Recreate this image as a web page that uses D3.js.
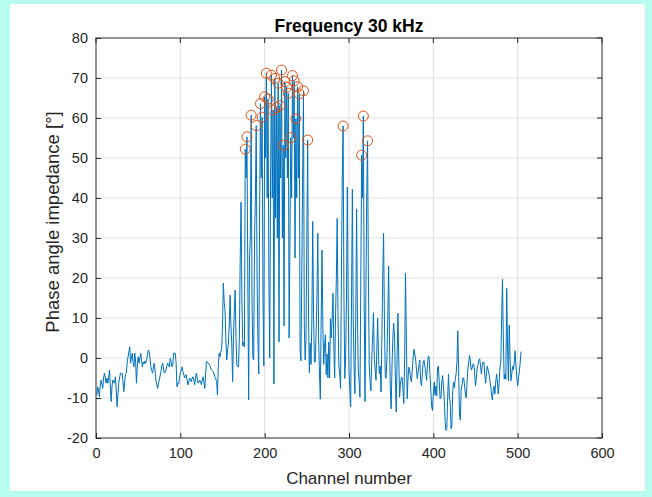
<!DOCTYPE html>
<html>
<head>
<meta charset="utf-8">
<script src="https://cdn.jsdelivr.net/npm/d3@7"></script>
<style>
  html, body { margin: 0; padding: 0; background: #b8fbef; }
  svg { display: block; font-family: "Liberation Sans", Arial, sans-serif; }
</style>
</head>
<body>
<div id="chart"></div>
<script>
(function() {
  // Phase angle per channel (channel 1..504)
  const phase = [
    // 1-100
    -9.2, -7.2, -8, -9.7, -7, -5.5, -6.5, -7.6, -5, -3.8,
    -5, -6.3, -5, -6.3, -5, -3, -7, -10.9, -7, -5.5,
    -6, -6.3, -4.7, -8, -12.2, -9, -6.3, -5, -3.8, -4,
    -3.8, -6, -8.4, -6, -4, -3.8, -1, 0.3, 1.5, 2.8,
    -1.3, 0, 1.2, -1, -2.2, 1.2, -1, -6.3, -2, 0.3,
    -1.3, 0, 1.2, -0.5, -2.2, -1, -1.5, -0.8, -1.3, -0.5,
    0.8, 2, 1.6, 0, -2.2, -3, -3.8, -2.5, -1.3, -3,
    -5.5, -6.5, -7.6, -6.5, -5.5, -4.5, -3.4, -2, -1.3, -2.5,
    -3.8, -3.5, -3, -2, -1.3, -1.8, -2.2, -0.1, -0.9, -2.2,
    -1.8, 1.2, 1.2, 1.2, -1.3, -7.2, -6.3, -6.5, -5, -3.8,
    // 101-200
    -3, -2.2, -3.4, -4, -5, -4.5, -4.2, -5.5, -6.7, -6,
    -5, -5.5, -5.9, -5, -4.7, -5.5, -6.7, -5, -3.8, -5,
    -6.3, -6, -5.5, -6, -6.7, -5.5, -4.7, -6, -7.6, -4,
    -0.9, -1, -1.3, -1.5, -1.8, -2.5, -3, -3.2, -3.4, -4,
    -4.7, -5.2, -5.9, -9.25, -2, 1.2, 0.3, 1.5, 2.4, 8,
    18.7, 14, 12, 4.5, -0.5, 2, 3.7, 8, 15.7, 8,
    3.7, -5.9, 5, 12, 17, 5, -1.7, -2.2, -2.2, 5,
    25, 39, 15, 3, 4, 2.8, 52.2, 45, 55.3, 20,
    -10.5, 25, 30, 60.7, 15, 0, -0.5, 30, 40, 58.1,
    20, 5, -4, 35, 63.6, 45, 60.2, 15, -2, 65.3,
    // 201-300
    50, 71.2, 40, 64.7, 20, 0, 45, 70.7, 40, 62,
    -6.5, 69.9, 35, 62.6, 30, 68.7, 4, 63.1, 45, 72,
    30, 53.2, 8, 69.1, 50, 67.7, 45, 66.2, 5, 30,
    55.1, 40, 70.6, 55, 69.3, 25, 59.8, 40, 67.8, 45,
    66, 2, -0.7, 20, 45, 66.8, 8, -0.5, 5, 30,
    54.5, 10, -3.7, 3.7, -1.6, 10, 34.1, 10, -1, -1,
    6.6, 15, 31.2, 5, -4, -10.3, 10, 27, 8, -1.6,
    3, 5.8, -4.2, 1, -5, 4, -5, 9.8, 5, 10,
    16.2, 3, -5, 10, 20, 34.9, 10, -2, -4, -7.6,
    20, 45, 58, 15, -5.1, 0, 15, 42.7, 15, -3,
    // 301-400
    -8, -12.2, 15, 42.2, 10, -2, -8.9, 10, 37.2, 10,
    -3, -6, -9.8, 20, 50.7, 40, 60.5, 15, -10.9, 15,
    40, 54.3, 20, -2, -6, -8.2, 0, 5, 11.3, 0,
    -3, -5.6, 2, 9.9, 0, -3.9, -2, -8.5, 5, 20,
    31.2, 10, -4.7, -5.1, 0, 10, 23, 5, -8, -12.7,
    -2, 5, 8.7, 4.9, -5, -13.5, 0, 11.2, 0, -9.8,
    -6.5, -5, -4.8, -8, -11.4, 0, 21.2, 5, -10.2, -5,
    -2.3, -3, -5, -6, -3, 0, 2.2, 1, -0.2, -3,
    -5.2, -3.5, -1.8, -0.5, -6, -7, -4, -1, -0.6, -2,
    -3.7, -5.6, -2, 0.5, 0.25, -4, -8.1, -12.2, -13.1, -9,
    // 401-504
    -6, -9.3, -7, -9.5, -2.5, -2, -6, -10.2, -10, -6,
    -4.4, -7, -10.6, -15.9, -18.1, -17.6, -10, -4, -9.75, -11,
    -17.7, -17, -8.1, -6, -7.5, -5.2, -4, -1, 6.8, -3,
    -14, -15.5, -8, -6.8, -5, -5, -7, -9, -10, -6,
    -2.5, -1, 0.6, -1, -3, -2.5, -1.5, -1.5, -4, -7,
    -5, -2.5, -1.7, -0.5, -0.2, -2, -4, -2, -1, -1,
    -4, -6.3, -4, -2, -3, -4, -5.5, -7, -9, -10.5,
    -8, -7, -9, -6, -4, -6, -9, -6, -2.5, -1,
    10, 19.7, 5, -5.3, -4, -5.3, 17.4, 3, -5.7, 8.25,
    0, -5.7, -4, -2, -3, -1, 1.8, -2, -5, -7,
    -5, -3.4, -1, 1.6
  ];

  // Channels flagged as peaks (orange circles)
  const peakChannels = [
    177, 179, 184, 190, 195, 197, 200, 202, 204, 208,
    210, 212, 214, 216, 218, 220, 222, 224, 226, 228,
    231, 233, 235, 237, 239, 241, 246, 251, 293, 315,
    317, 322
  ];

  const xTicks = [0, 100, 200, 300, 400, 500, 600];
  const yTicks = [-20, -10, 0, 10, 20, 30, 40, 50, 60, 70, 80];

  const width = 652, height = 497;
  const margin = { top: 38, right: 50, bottom: 59, left: 96 };
  const innerW = width - margin.left - margin.right;
  const innerH = height - margin.top - margin.bottom;

  const data = phase.map((v, i) => ({ ch: i + 1, v: v }));
  const peaks = peakChannels.map(c => ({ ch: c, v: phase[c - 1] }));

  const svg = d3.select("#chart").append("svg")
    .attr("width", width)
    .attr("height", height);

  // white figure panel over the cyan backdrop
  svg.append("rect")
    .attr("x", 10).attr("y", 4)
    .attr("width", 635).attr("height", 487)
    .attr("fill", "#ffffff");

  const x = d3.scaleLinear().domain([0, 600]).range([0, innerW]);
  const y = d3.scaleLinear().domain([-20, 80]).range([innerH, 0]);

  const g = svg.append("g")
    .attr("transform", `translate(${margin.left},${margin.top})`);

  // grid
  g.append("g")
    .selectAll("line")
    .data(xTicks.slice(1, -1))
    .join("line")
    .attr("x1", d => x(d)).attr("x2", d => x(d))
    .attr("y1", 0).attr("y2", innerH)
    .attr("stroke", "#dfdfdf").attr("stroke-width", 1);

  g.append("g")
    .selectAll("line")
    .data(yTicks.slice(1, -1))
    .join("line")
    .attr("x1", 0).attr("x2", innerW)
    .attr("y1", d => y(d)).attr("y2", d => y(d))
    .attr("stroke", "#dfdfdf").attr("stroke-width", 1);

  // series
  const line = d3.line()
    .x(d => x(d.ch))
    .y(d => y(d.v));

  g.append("path")
    .datum(data)
    .attr("fill", "none")
    .attr("stroke", "#0072BD")
    .attr("stroke-width", 1)
    .attr("stroke-linejoin", "round")
    .attr("d", line);

  g.append("g")
    .selectAll("circle")
    .data(peaks)
    .join("circle")
    .attr("cx", d => x(d.ch))
    .attr("cy", d => y(d.v))
    .attr("r", 5)
    .attr("fill", "none")
    .attr("stroke", "#D95319")
    .attr("stroke-width", 1);

  // axes, MATLAB style: ticks inside, box around
  const axColor = "#262626";
  const fmt = d => String(d);
  const xAxis = g.append("g")
    .attr("transform", `translate(0,${innerH})`)
    .call(d3.axisBottom(x).tickValues(xTicks).tickFormat(fmt).tickSizeInner(-5).tickSizeOuter(0).tickPadding(10));
  const yAxis = g.append("g")
    .call(d3.axisLeft(y).tickValues(yTicks).tickFormat(fmt).tickSizeInner(-5).tickSizeOuter(0).tickPadding(8));

  [xAxis, yAxis].forEach(a => {
    a.select(".domain").remove();
    a.selectAll("line").attr("stroke", axColor);
    a.selectAll("text")
      .attr("fill", axColor)
      .style("font-size", "14.5px")
      .style("font-family", "'Liberation Sans', Arial, sans-serif");
  });

  // top and right ticks
  g.append("g").selectAll("line")
    .data(xTicks)
    .join("line")
    .attr("x1", d => x(d)).attr("x2", d => x(d))
    .attr("y1", 0).attr("y2", 5)
    .attr("stroke", axColor);
  g.append("g").selectAll("line")
    .data(yTicks)
    .join("line")
    .attr("x1", innerW).attr("x2", innerW - 5)
    .attr("y1", d => y(d)).attr("y2", d => y(d))
    .attr("stroke", axColor);

  g.append("rect")
    .attr("x", 0).attr("y", 0)
    .attr("width", innerW).attr("height", innerH)
    .attr("fill", "none")
    .attr("stroke", axColor)
    .attr("stroke-width", 1);

  // labels
  svg.append("text")
    .attr("x", margin.left + innerW / 2)
    .attr("y", 32)
    .attr("text-anchor", "middle")
    .attr("font-weight", "bold")
    .attr("font-size", "17.5px")
    .attr("fill", "#000")
    .text("Frequency 30 kHz");

  svg.append("text")
    .attr("x", margin.left + innerW / 2)
    .attr("y", 484)
    .attr("text-anchor", "middle")
    .attr("font-size", "17px")
    .attr("fill", axColor)
    .text("Channel number");

  svg.append("text")
    .attr("transform", "translate(59,222) rotate(-90)")
    .attr("text-anchor", "middle")
    .attr("font-size", "18.5px")
    .attr("fill", axColor)
    .text("Phase angle impedance [°]");
})();
</script>
</body>
</html>
